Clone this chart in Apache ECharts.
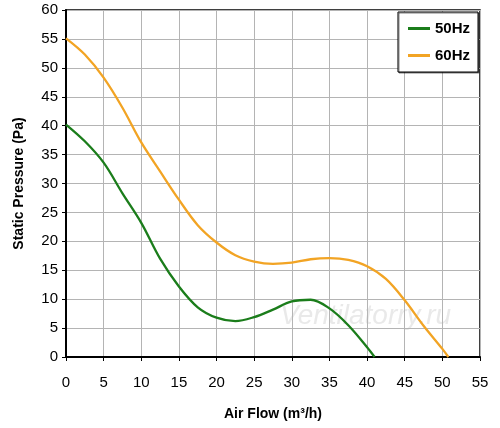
<!DOCTYPE html>
<html lang="en">
<head>
    <meta charset="UTF-8">
    <title>Static Pressure</title>
    <script src="https://cdn.jsdelivr.net/npm/echarts@6/dist/echarts.min.js"></script>
    <style>
        html, body { margin: 0; padding: 0; background: #fff; }
        #chart { width: 500px; height: 428px; }
    </style>
</head>
<body>
<div id="chart"></div>
<script type="text/javascript">
    // air flow (m3/h) / static pressure (Pa)
    var flow50 = [0, 2.5, 5, 7.5, 10, 12.5, 15, 17.5, 20, 22.5, 25, 27.5, 30, 32.5, 35, 37.5, 40, 41];
    var pres50 = [40.2, 37.3, 33.6, 28.3, 23.2, 17.0, 12.2, 8.6, 6.8, 6.2, 6.9, 8.2, 9.6, 9.9, 8.4, 5.5, 1.7, 0];

    var flow60 = [0, 2.5, 5, 7.5, 10, 12.5, 15, 17.5, 20, 22.5, 25, 27.5, 30, 32.5, 35, 37.5, 40, 42.5, 45, 47.5, 50, 50.8];
    var pres60 = [55.1, 52.3, 48.3, 43.1, 37.1, 32.1, 27.2, 22.8, 19.8, 17.6, 16.5, 16.1, 16.3, 16.9, 17.1, 16.8, 15.7, 13.5, 9.8, 5.4, 1.4, 0];

    var seriesNames = ['50Hz', '60Hz'];
    var seriesColors = ['#1b7d1b', '#f2a424'];

    function pairs(xs, ys) {
        var out = [];
        for (var i = 0; i < xs.length; i++) out.push([xs[i], ys[i]]);
        return out;
    }

    var chart = echarts.init(document.getElementById('chart'));
    var font = 'Liberation Sans, Arial, sans-serif';

    var option = {
        animation: false,
        backgroundColor: '#fff',
        grid: {
            left: 66, right: 20, top: 10, bottom: 71,
            show: true, borderColor: '#000', borderWidth: 1.5
        },
        legend: {
            data: seriesNames,
            orient: 'vertical',
            right: 22, top: 12,
            padding: [9, 8, 9, 10],
            itemGap: 12,
            itemWidth: 22, itemHeight: 3,
            icon: 'rect',
            backgroundColor: '#fff',
            borderColor: '#000', borderWidth: 1,
            shadowColor: 'rgba(0,0,0,0.5)', shadowOffsetX: 1, shadowOffsetY: 1,
            textStyle: { fontFamily: font, fontSize: 15, fontWeight: 'bold', color: '#000' }
        },
        xAxis: {
            type: 'value', min: 0, max: 55, interval: 5,
            name: 'Air Flow (m³/h)', nameLocation: 'middle', nameGap: 50,
            nameTextStyle: { fontFamily: font, fontSize: 14, fontWeight: 'bold', color: '#000' },
            axisLine: { lineStyle: { color: '#000', width: 2 } },
            axisTick: { show: true, length: 4, lineStyle: { color: '#000' } },
            axisLabel: { fontFamily: font, fontSize: 15, color: '#000', margin: 18 },
            splitLine: { lineStyle: { color: '#b4b4b4', width: 1 } }
        },
        yAxis: {
            type: 'value', min: 0, max: 60, interval: 5,
            name: 'Static Pressure (Pa)', nameLocation: 'middle', nameGap: 40,
            nameTextStyle: { fontFamily: font, fontSize: 14, fontWeight: 'bold', color: '#000' },
            axisLine: { show: true, lineStyle: { color: '#000', width: 2 } },
            axisTick: { show: true, length: 4, lineStyle: { color: '#000' } },
            axisLabel: { fontFamily: font, fontSize: 15, color: '#000', margin: 8 },
            splitLine: { lineStyle: { color: '#b4b4b4', width: 1 } }
        },
        graphic: [{
            type: 'text', left: 280, top: 302, z: 0,
            style: {
                text: 'Ventilatorry.ru',
                font: 'italic 28px Liberation Sans, Arial, sans-serif',
                fill: 'rgba(215,215,215,0.55)'
            }
        }],
        series: [
            {
                name: seriesNames[0], type: 'line', smooth: 0.35,
                showSymbol: false, symbol: 'none',
                lineStyle: { color: seriesColors[0], width: 2.3 },
                itemStyle: { color: seriesColors[0] },
                data: pairs(flow50, pres50)
            },
            {
                name: seriesNames[1], type: 'line', smooth: 0.35,
                showSymbol: false, symbol: 'none',
                lineStyle: { color: seriesColors[1], width: 2.3 },
                itemStyle: { color: seriesColors[1] },
                data: pairs(flow60, pres60)
            }
        ]
    };

    chart.setOption(option);
</script>
</body>
</html>
